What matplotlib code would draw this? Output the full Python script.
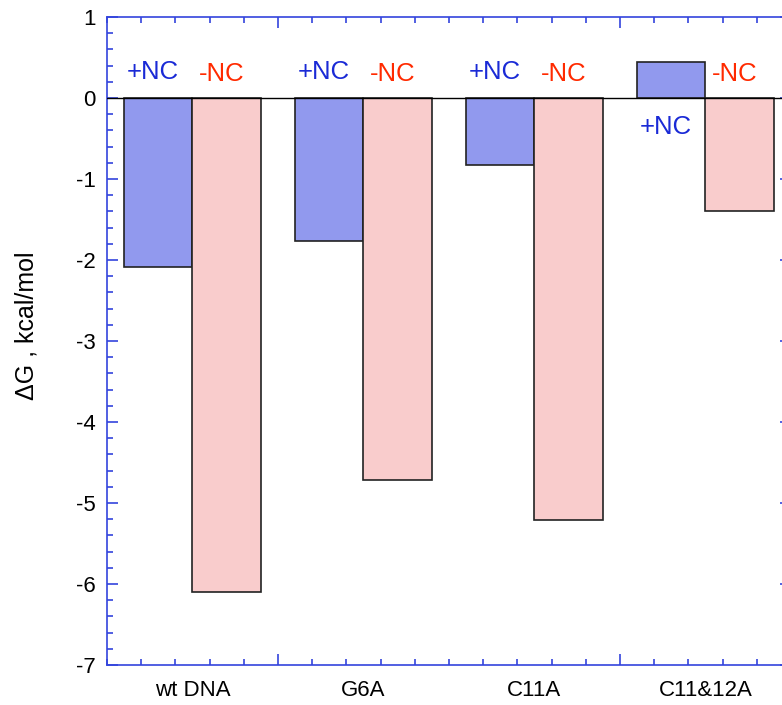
import matplotlib
matplotlib.use("Agg")
import matplotlib.pyplot as plt
from matplotlib.ticker import MultipleLocator
from matplotlib.transforms import blended_transform_factory

plt.rcParams['font.family'] = ['Liberation Sans', 'DejaVu Sans']

categories = ["wt DNA", "G6A", "C11A", "C11&12A"]
with_nc = [-2.09, -1.77, -0.83, 0.45]
without_nc = [-6.10, -4.71, -5.21, -1.40]

series_labels = ["+NC", "-NC"]
label_colors = ["#1a2ad6", "#ff2a00"]
fill_colors = ["#9199ee", "#f9cccc"]

fig = plt.figure(figsize=(7.82, 7.05), dpi=100)
ax = fig.add_axes([0.1368, 0.0567, 0.8747, 0.9192])

bar_w = 0.4
centers = [i + 0.5 for i in range(len(categories))]

ax.bar([c - bar_w / 2 for c in centers], with_nc, width=bar_w,
       color=fill_colors[0], edgecolor="#222222", linewidth=1.2, zorder=2)
ax.bar([c + bar_w / 2 for c in centers], without_nc, width=bar_w,
       color=fill_colors[1], edgecolor="#222222", linewidth=1.2, zorder=2)

ax.axhline(0, color="black", linewidth=1.0, zorder=3)

# series labels above (or below, for positive bars) each group
for c, v_with, v_without in zip(centers, with_nc, without_nc):
    y_with = 0.32 if v_with < 0 else -0.36
    ax.text(c - bar_w / 2 - 0.03, y_with, series_labels[0], color=label_colors[0],
            fontsize=18.5, ha="center", va="center")
    ax.text(c + bar_w / 2 - 0.03, 0.30, series_labels[1], color=label_colors[1],
            fontsize=18.5, ha="center", va="center")

ax.set_xlim(0, 4)
ax.set_ylim(-7, 1)

spine_color = "#3344dd"
for s in ax.spines.values():
    s.set_color(spine_color)
    s.set_linewidth(1.2)

ax.yaxis.set_major_locator(MultipleLocator(1))
ax.yaxis.set_minor_locator(MultipleLocator(0.2))
ax.xaxis.set_major_locator(MultipleLocator(2, offset=1))
ax.xaxis.set_minor_locator(MultipleLocator(0.2))

ax.tick_params(which="both", direction="in", top=True, right=True,
               color=spine_color, width=1.2)
ax.tick_params(which="major", length=8, labelsize=16, pad=8)
ax.tick_params(which="minor", length=4.3)
ax.tick_params(axis="x", labelbottom=False)

ax.set_yticks(range(-7, 2))
ax.set_yticklabels([str(v) for v in range(-7, 2)])

trans = blended_transform_factory(ax.transData, ax.transAxes)
for c, name in zip(centers, categories):
    ax.text(c, -0.04, name, transform=trans, ha="center", va="center", fontsize=16)

fig.text(27 / 782, 1 - 326 / 705, "ΔG , kcal/mol", rotation=90,
         ha="center", va="center", fontsize=18)

fig.savefig("out.png", dpi=100)
